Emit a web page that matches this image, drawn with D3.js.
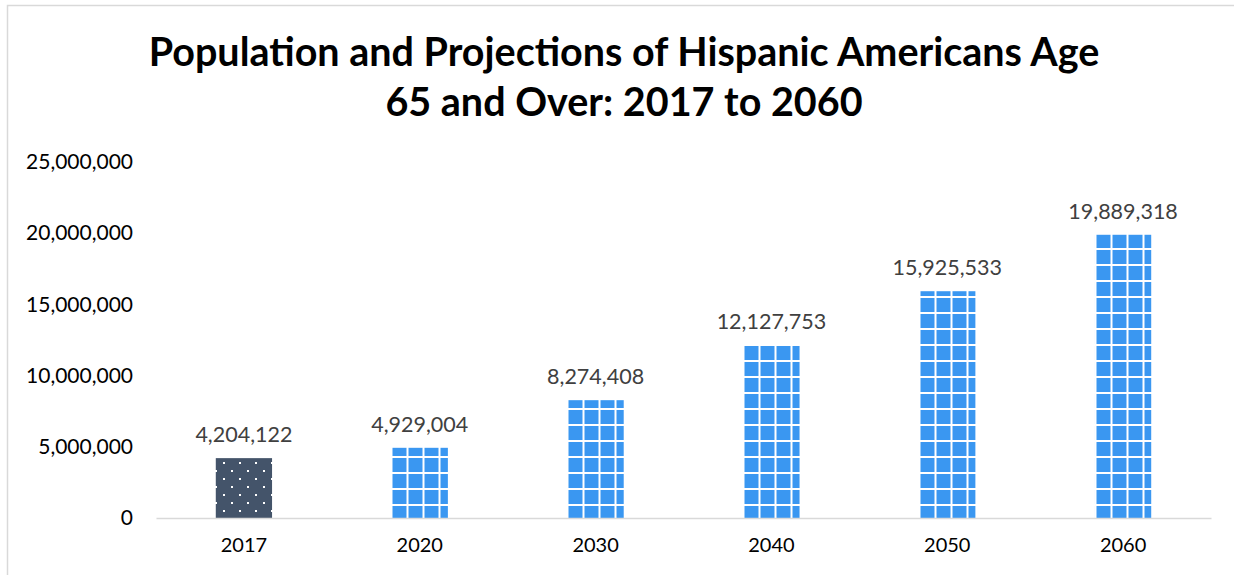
<!DOCTYPE html>
<html>
<head>
<meta charset="utf-8">
<script src="https://cdn.jsdelivr.net/npm/d3@7"></script>
<style>
  body { margin: 0; background: #fff; }
  svg { display: block; }
</style>
</head>
<body>
<div id="chart"></div>
<script>
// chart data
var years = ['2017', '2020', '2030', '2040', '2050', '2060'];
var population = [4204122, 4929004, 8274408, 12127753, 15925533, 19889318];
var yTicks = [0, 5000000, 10000000, 15000000, 20000000, 25000000];
var titleLines = ['Population and Projections of Hispanic Americans Age', '65 and Over: 2017 to 2060'];

var w = 1234, h = 575;
var plotLeft = 156, plotRight = 1211, plotTop = 162, plotBottom = 518;

var svg = d3.select('#chart').append('svg')
  .attr('width', w)
  .attr('height', h);

var defs = svg.append('defs');

// blue grid pattern (white lines)
var grid = defs.append('pattern')
  .attr('id', 'grid')
  .attr('patternUnits', 'userSpaceOnUse')
  .attr('x', 406.5).attr('y', 456)
  .attr('width', 16).attr('height', 16);
grid.append('rect').attr('width', 16).attr('height', 16).attr('fill', '#3a97f1');
grid.append('rect').attr('width', 2).attr('height', 16).attr('fill', '#fff');
grid.append('rect').attr('width', 16).attr('height', 2).attr('fill', '#fff');

// dark dotted pattern
var dots = defs.append('pattern')
  .attr('id', 'dots')
  .attr('patternUnits', 'userSpaceOnUse')
  .attr('x', 223).attr('y', 462)
  .attr('width', 16).attr('height', 16);
dots.append('rect').attr('width', 16).attr('height', 16).attr('fill', '#44546a');
dots.append('rect').attr('width', 2).attr('height', 2).attr('fill', '#fff');
dots.append('rect').attr('x', 8).attr('y', 8).attr('width', 2).attr('height', 2).attr('fill', '#fff');

// chart border
svg.append('rect')
  .attr('x', 7.5).attr('y', 5.5)
  .attr('width', w + 20).attr('height', h + 20)
  .attr('fill', 'none')
  .attr('stroke', '#d9d9d9')
  .attr('stroke-width', 1.5);

var x = d3.scaleBand()
  .domain(years)
  .range([plotLeft, plotRight])
  .paddingInner(0.68)
  .paddingOuter(0.34);

var y = d3.scaleLinear()
  .domain([0, 25000000])
  .range([plotBottom, plotTop]);

var fmt = d3.format(',');

// title
svg.append('text')
  .attr('x', 624)
  .attr('text-anchor', 'middle')
  .attr('font-family', 'Lato, sans-serif')
  .attr('font-weight', 'bold')
  .attr('font-size', 39.5)
  .attr('fill', '#000')
  .selectAll('tspan')
  .data(titleLines)
  .enter().append('tspan')
  .attr('x', 624)
  .attr('y', function(d, i) { return 66 + i * 50; })
  .text(function(d) { return d; });

// y axis labels (no line)
var yAxis = svg.append('g')
  .attr('transform', 'translate(' + plotLeft + ',0)')
  .call(d3.axisLeft(y).tickValues(yTicks).tickFormat(fmt).tickSize(0).tickPadding(23));
yAxis.select('.domain').remove();
yAxis.selectAll('text')
  .attr('font-family', 'Lato, sans-serif')
  .attr('font-size', 21)
  .attr('fill', '#000');

// bars
svg.selectAll('rect.bar')
  .data(population)
  .enter().append('rect')
  .attr('class', 'bar')
  .attr('x', function(d, i) { return x(years[i]); })
  .attr('y', function(d) { return y(d); })
  .attr('width', x.bandwidth())
  .attr('height', function(d) { return plotBottom - y(d); })
  .attr('fill', function(d, i) { return i === 0 ? 'url(#dots)' : 'url(#grid)'; });

// data labels
svg.selectAll('text.val')
  .data(population)
  .enter().append('text')
  .attr('class', 'val')
  .attr('x', function(d, i) { return x(years[i]) + x.bandwidth() / 2; })
  .attr('y', function(d) { return y(d) - 16; })
  .attr('text-anchor', 'middle')
  .attr('font-family', 'Lato, sans-serif')
  .attr('font-size', 21.5)
  .attr('fill', '#404040')
  .text(function(d) { return fmt(d); });

// x axis
var xAxis = svg.append('g')
  .attr('transform', 'translate(0,' + plotBottom + ')')
  .call(d3.axisBottom(x).tickSize(0).tickPadding(20));
xAxis.select('.domain')
  .attr('stroke', '#d9d9d9')
  .attr('stroke-width', 1.5);
xAxis.selectAll('text')
  .attr('font-family', 'Lato, sans-serif')
  .attr('font-size', 20)
  .attr('fill', '#000');
</script>
</body>
</html>
